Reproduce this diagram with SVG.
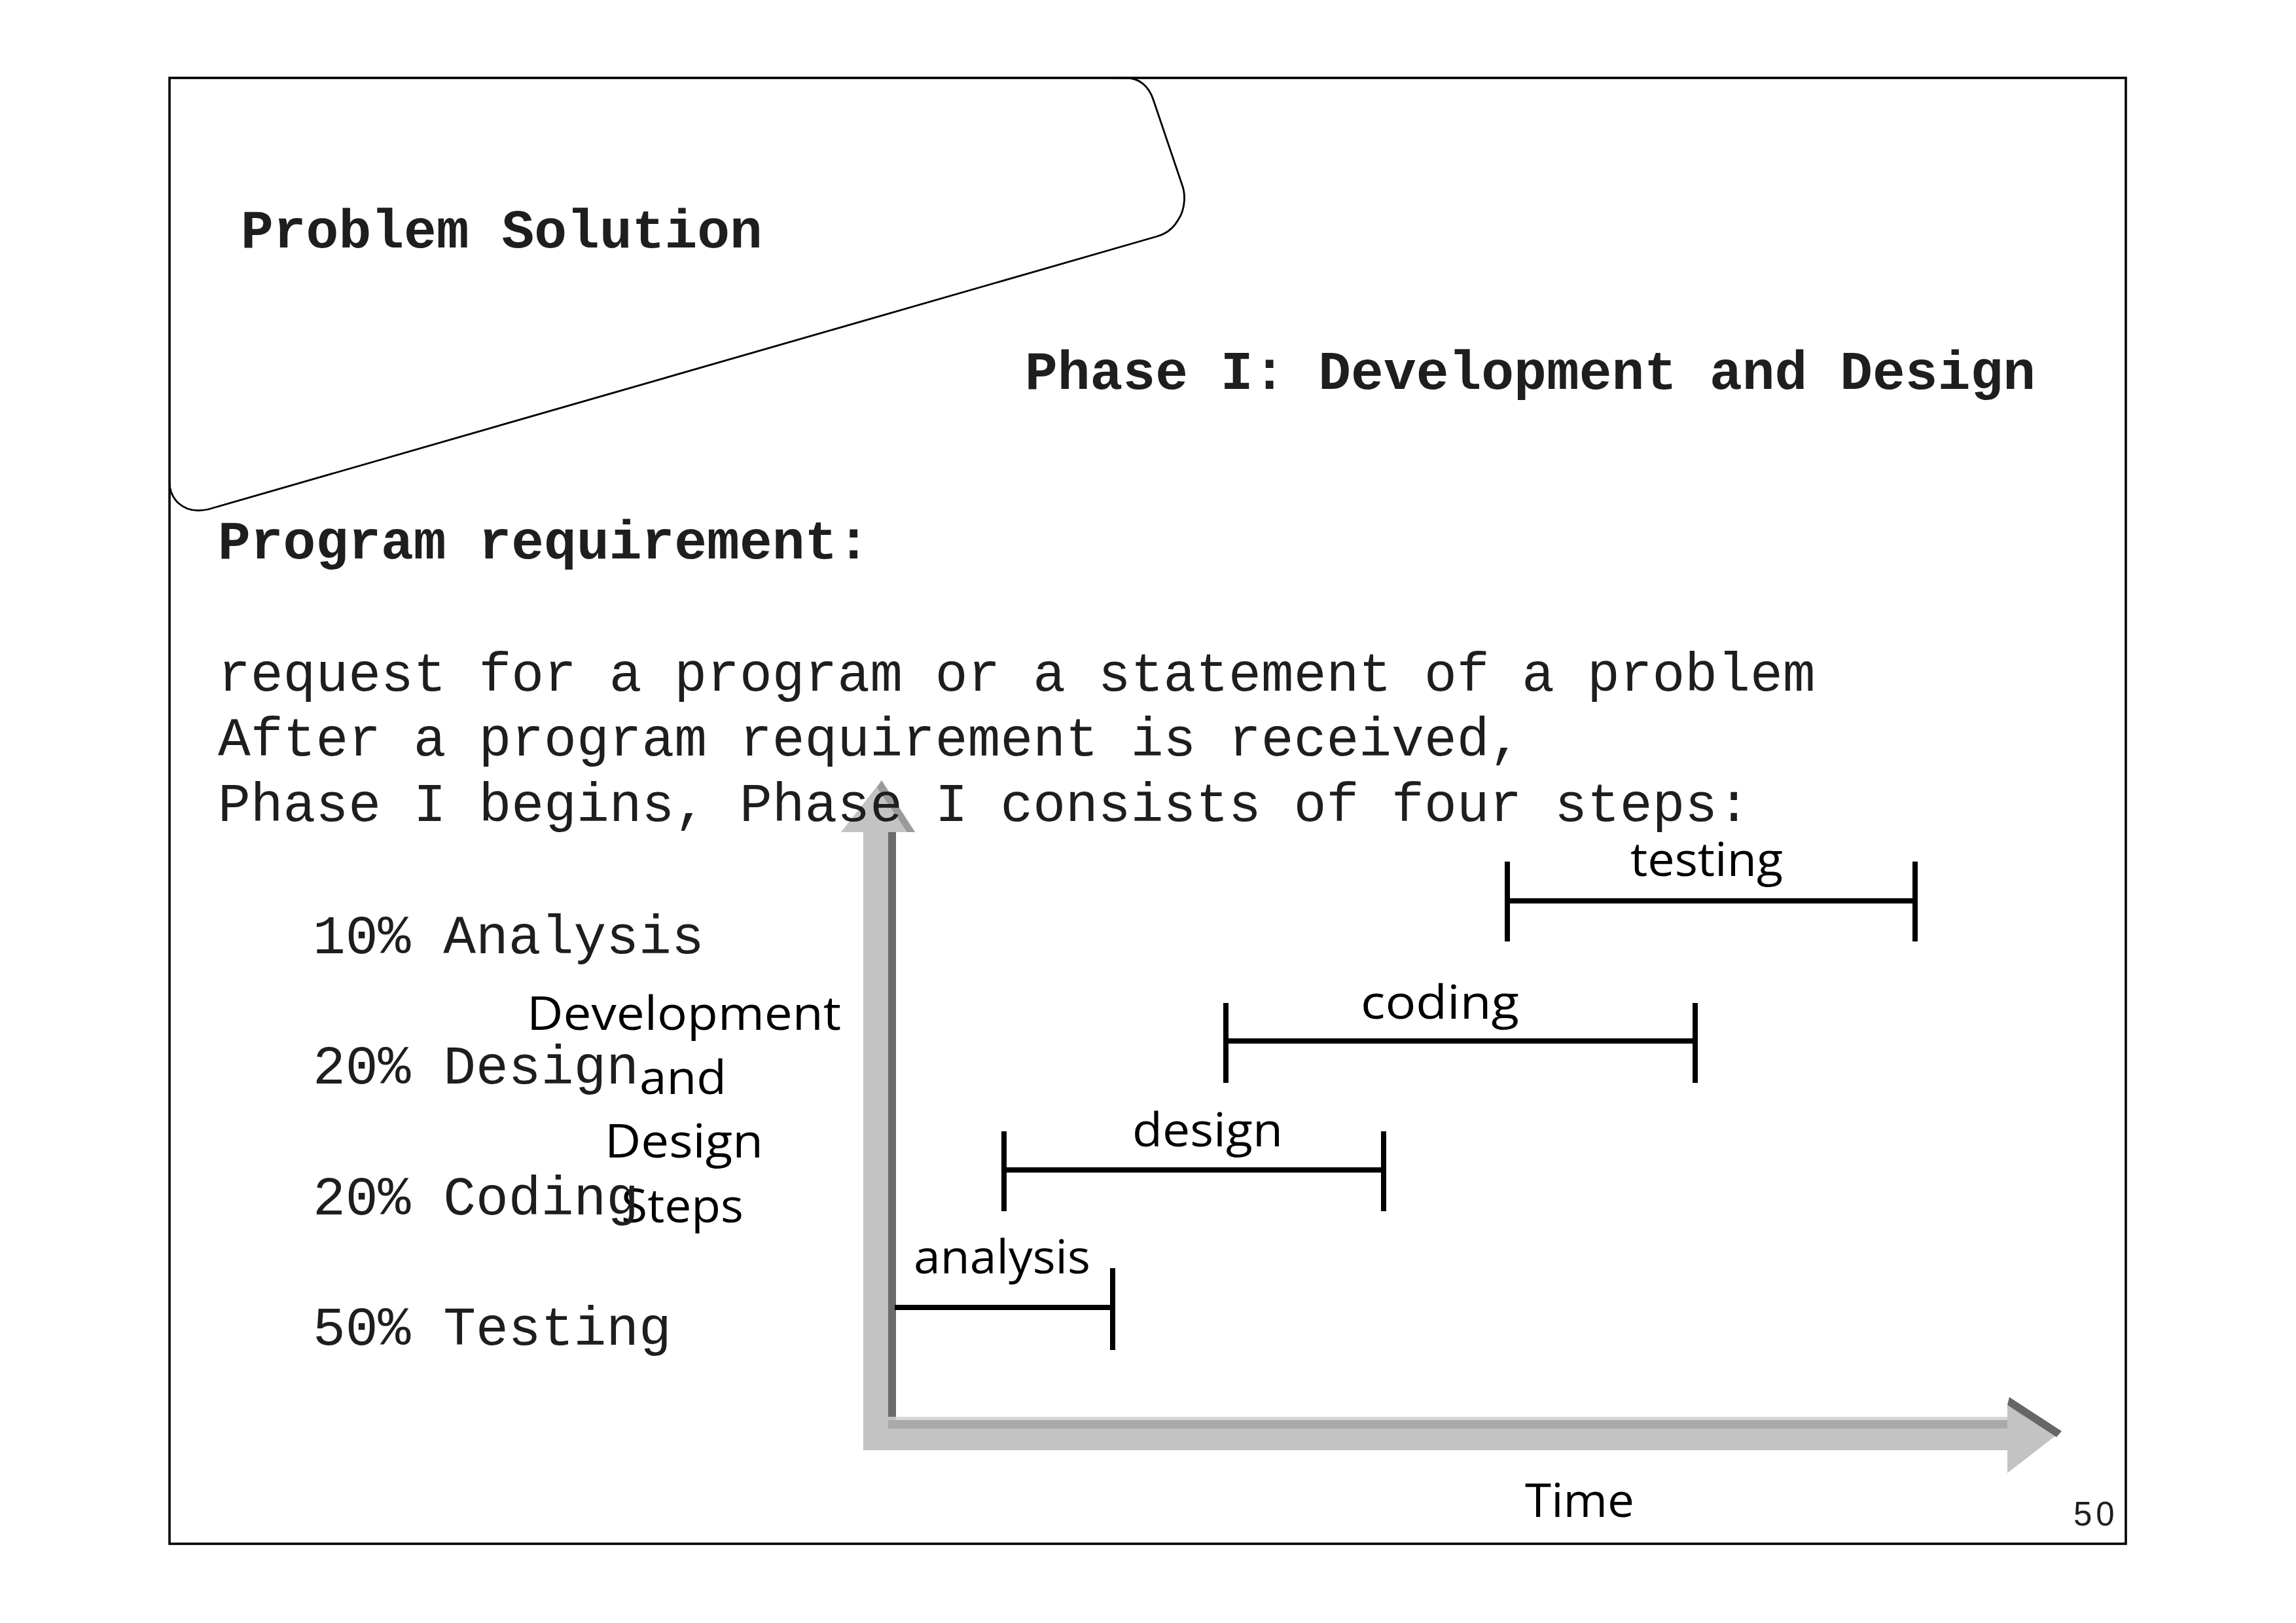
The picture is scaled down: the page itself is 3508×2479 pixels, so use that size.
<svg xmlns="http://www.w3.org/2000/svg" width="3508" height="2479" viewBox="0 0 3508 2479">
<style>
.mono{font-family:"Liberation Mono","Courier New",monospace;font-size:83px;fill:#1e1e1e}
.b{font-weight:bold}
.sans{font-family:"Open Sans","Noto Sans",sans-serif;font-size:72px;fill:#000}
.bar{stroke:#000;stroke-width:8;fill:none}
.lg{fill:#c3c3c3}
</style>
<rect width="3508" height="2479" fill="#fff"/>
<g id="frame">
<rect x="259" y="119" width="2989" height="2239" fill="none" stroke="#000" stroke-width="3.6"/>
</g>
<g id="tab">
<path d="M1700,119 L1720,119 C1740,119 1755,131 1762,152 L1806,282 C1811,295 1812,318 1800,336 C1792,350 1782,357 1768,361 L318,778 C300,782 285,780 272,768 C263,759 259,748 259,737" fill="none" stroke="#000" stroke-width="2.8" stroke-linejoin="round"/>
</g>
<g id="chart">
<g id="axes">
<rect class="lg" x="1319" y="1270" width="38" height="945"/>
<rect x="1357" y="1271" width="12" height="906" fill="#6b6b6b"/>
<polygon class="lg" points="1347,1192 1398,1271 1285,1271"/>
<polygon points="1347,1192 1398,1271 1386,1271 1340,1203" fill="#9a9a9a"/>
<rect class="lg" x="1319" y="2164" width="1749" height="51"/>
<rect x="1369" y="2164" width="1699" height="5" fill="#d6d6d6"/>
<rect x="1357" y="2169" width="1711" height="13" fill="#a9a9a9"/>
<polygon class="lg" points="3067,2146 3142,2192 3067,2250"/>
<polygon points="3070,2134 3150,2186 3142,2195 3067,2146" fill="#666"/>
</g>
<g id="connectors">
<path class="bar" d="M2303,1376 H2926 M2303,1316 V1438 M2926,1316 V1438"/>
<path class="bar" d="M1873,1590 H2590 M1873,1532 V1654 M2590,1532 V1654"/>
<path class="bar" d="M1534,1787 H2114 M1534,1728 V1850 M2114,1728 V1850"/>
<path class="bar" d="M1367,1997 H1700 M1700,1937 V2062"/>
</g>
<g id="bar-testing"><text class="sans" x="2491" y="1338" textLength="233" lengthAdjust="spacingAndGlyphs">testing</text></g>
<g id="bar-coding"><text class="sans" x="2079" y="1556" textLength="242" lengthAdjust="spacingAndGlyphs">coding</text></g>
<g id="bar-design"><text class="sans" x="1730" y="1751" textLength="230" lengthAdjust="spacingAndGlyphs">design</text></g>
<g id="bar-analysis"><text class="sans" x="1396" y="1945" textLength="270" lengthAdjust="spacingAndGlyphs">analysis</text></g>
<g id="axis-time"><text class="sans" x="2330" y="2317" textLength="167" lengthAdjust="spacingAndGlyphs">Time</text></g>
<g id="axis-steps">
<text class="sans" x="805" y="1573" textLength="480" lengthAdjust="spacingAndGlyphs">Development</text>
<text class="sans" x="977" y="1671" textLength="133" lengthAdjust="spacingAndGlyphs">and</text>
<text class="sans" x="924" y="1768" textLength="242" lengthAdjust="spacingAndGlyphs">Design</text>
<text class="sans" x="949" y="1867" textLength="187" lengthAdjust="spacingAndGlyphs">Steps</text>
</g>
</g>
<g id="titles">
<text class="mono b" x="368" y="378">Problem Solution</text>
<text class="mono b" x="1566" y="594">Phase I: Development and Design</text>
</g>
<g id="body">
<text class="mono b" x="333" y="853">Program requirement:</text>
<text class="mono" x="333" y="1055">request for a program or a statement of a problem</text>
<text class="mono" x="333" y="1154">After a program requirement is received,</text>
<text class="mono" x="333" y="1254">Phase I begins, Phase I consists of four steps:</text>
</g>
<g id="list">
<text class="mono" x="478" y="1456">10% Analysis</text>
<text class="mono" x="478" y="1655">20% Design</text>
<text class="mono" x="478" y="1855">20% Coding</text>
<text class="mono" x="478" y="2054">50% Testing</text>
</g>
<g id="page-number">
<text x="3168" y="2330" font-family="Liberation Sans, Arial, sans-serif" font-size="51" letter-spacing="6" fill="#1e1e1e">50</text>
</g>
</svg>
